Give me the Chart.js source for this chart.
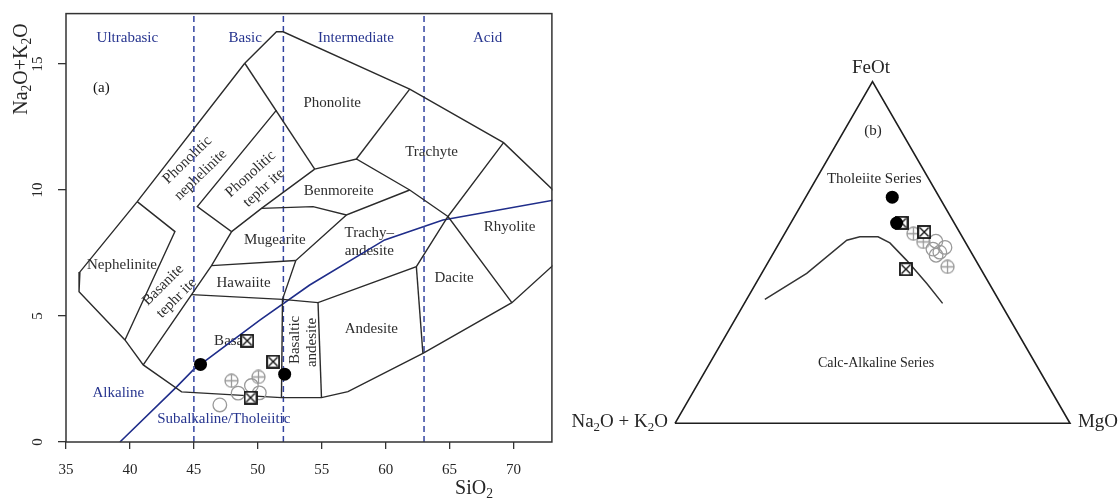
<!DOCTYPE html>
<html>
<head>
<meta charset="utf-8">
<script src="https://cdn.jsdelivr.net/npm/chart.js@4.4.1/dist/chart.umd.min.js"></script>
<style>
body { margin: 0; background: #fff; }
#wrap { position: relative; width: 1120px; height: 500px; }
#tas { position: absolute; left: 0; top: 0; }
#afm { position: absolute; left: 560px; top: 0; }
</style>
</head>
<body>
<div id="wrap">
<canvas id="tas" width="560" height="500"></canvas>
<canvas id="afm" width="560" height="500"></canvas>
</div>
<script>
const SERIF = '"Liberation Serif", "DejaVu Serif", serif';
const INK = '#262626';
const BLUE = '#27358f';
const GREY = '#9a9a9a';

// ---------- (a) TAS data ----------
const xTicks = [35, 40, 45, 50, 55, 60, 65, 70];
const yTicks = [0, 5, 10, 15];
const silicaDivides = [45, 52, 63];

// field boundaries, [SiO2, Na2O+K2O]
const outerTop = [[48.98, 15.03], [51.46, 16.28], [51.98, 16.28], [61.88, 14.0], [69.22, 11.88], [73.5, 9.8]];
const outerLow = [[48.98, 15.03], [40.57, 9.54], [36.09, 6.75], [36.02, 5.96], [39.61, 4.05], [41.04, 3.06], [44.04, 1.99],
  [51.85, 1.76], [54.98, 1.76], [57.05, 2.0], [62.91, 3.52], [69.87, 5.53], [73.5, 7.2]];
const nephelinite = [[40.57, 9.54], [43.52, 8.35], [39.61, 4.05]];
const basaniteEdge = [[51.46, 13.17], [45.27, 9.34], [47.95, 8.35], [46.38, 7.0], [41.04, 3.06]];
const phonoliteEdge = [[48.98, 15.03], [54.45, 10.83]];
const tephriteEdge = [[47.95, 8.35], [50.29, 9.27], [54.45, 10.83]];
const trachyteBase = [[54.45, 10.83], [57.71, 11.23], [61.88, 10.0], [64.87, 8.95]];
const phonoliteRight = [[57.71, 11.23], [61.88, 14.0]];
const benmoreiteBase = [[50.29, 9.27], [54.32, 9.34], [56.93, 9.01], [61.88, 10.0]];
const mugeariteRight = [[56.93, 9.01], [52.97, 7.2], [51.93, 5.66]];
const mugeariteBase = [[46.38, 7.0], [52.97, 7.2]];
const basaltTop = [[44.83, 5.85], [51.93, 5.66], [54.71, 5.53], [62.40, 6.96], [64.87, 8.95]];
const basaltRight = [[51.93, 5.66], [51.85, 1.76]];
const basAndesiteRight = [[54.71, 5.53], [54.98, 1.76]];
const andesiteRight = [[62.40, 6.96], [62.91, 3.52]];
const daciteEdge = [[69.22, 11.88], [64.87, 8.95], [69.87, 5.53]];
const fieldLines = [outerTop, outerLow, nephelinite, basaniteEdge, phonoliteEdge, tephriteEdge, trachyteBase,
  phonoliteRight, benmoreiteBase, mugeariteRight, mugeariteBase, basaltTop, basaltRight, basAndesiteRight,
  andesiteRight, daciteEdge];

const alkalineLine = [[39.22, 0], [43.65, 2.19], [44.95, 2.86], [50.16, 4.84], [54.06, 6.23], [59.92, 8.02], [64.48, 8.81], [73.5, 9.63]];

const tasFilled = [[45.52, 3.08], [52.1, 2.69]];
const tasSquares = [[49.17, 4.02], [51.2, 3.19], [49.43, 1.76]];
const tasPlus = [[47.94, 2.43], [50.05, 2.58]];
const tasOpen = [[47.03, 1.47], [48.46, 1.94], [49.5, 2.24], [50.12, 1.95]];

// ---------- (b) AFM data, [Na2O+K2O, FeOt, MgO] % ----------
const afmFilled = [[11.9, 66.2, 21.9], [14.6, 58.6, 26.8]];
const afmSquares = [[13.3, 58.7, 28.0], [8.9, 56.0, 35.1], [19.0, 45.1, 35.9]];
const afmPlus = [[11.9, 55.5, 32.6], [10.6, 53.1, 36.3], [8.1, 45.8, 46.1]];
const afmOpen = [[7.3, 53.3, 39.4], [5.9, 51.5, 42.6], [9.2, 51.0, 39.8], [7.9, 50.1, 42.0], [9.3, 49.2, 41.5]];
const afmDivide = [[59.1, 36.3, 4.6], [44.7, 43.9, 11.4], [29.7, 53.6, 16.7], [25.9, 54.6, 19.5], [21.3, 54.6, 24.1],
  [19.2, 52.8, 28.0], [17.5, 47.7, 34.8], [15.8, 40.9, 43.3], [14.7, 35.1, 50.2]];
const afmCorners = [[100, 0, 0], [0, 0, 100], [0, 100, 0], [100, 0, 0]];

// ---------- helpers ----------
const pts = arr => arr.map(([x, y]) => ({ x, y }));
function tern([a, f, m]) {
  const s = a + f + m;
  return { x: (m + f / 2) / s, y: (f / s) * Math.sqrt(3) / 2 };
}

function crossSquare(size) {
  const c = document.createElement('canvas');
  c.width = c.height = size;
  const g = c.getContext('2d');
  g.fillStyle = '#fff';
  g.fillRect(1, 1, size - 2, size - 2);
  g.strokeStyle = '#111';
  g.lineWidth = 1.8;
  g.strokeRect(1, 1, size - 2, size - 2);
  g.lineWidth = 1.4;
  g.beginPath();
  g.moveTo(2.5, 2.5); g.lineTo(size - 2.5, size - 2.5);
  g.moveTo(size - 2.5, 2.5); g.lineTo(2.5, size - 2.5);
  g.stroke();
  return c;
}
function circlePlus(size) {
  const c = document.createElement('canvas');
  c.width = c.height = size;
  const g = c.getContext('2d');
  const r = size / 2 - 1;
  g.strokeStyle = GREY;
  g.lineWidth = 1.3;
  g.beginPath();
  g.arc(size / 2, size / 2, r, 0, Math.PI * 2);
  g.moveTo(size / 2 - r, size / 2); g.lineTo(size / 2 + r, size / 2);
  g.moveTo(size / 2, size / 2 - r); g.lineTo(size / 2, size / 2 + r);
  g.stroke();
  return c;
}
const squareImg = crossSquare(14);
const plusImg = circlePlus(15);

function drawRich(ctx, parts, x, y, size, align, color) {
  let total = 0;
  const widths = parts.map(([t, sub]) => {
    ctx.font = (sub ? size * 0.68 : size) + 'px ' + SERIF;
    const w = ctx.measureText(t).width;
    total += w;
    return w;
  });
  let cx = align === 'center' ? x - total / 2 : align === 'right' ? x - total : x;
  ctx.fillStyle = color;
  ctx.textAlign = 'left';
  ctx.textBaseline = 'alphabetic';
  parts.forEach(([t, sub], i) => {
    ctx.font = (sub ? size * 0.68 : size) + 'px ' + SERIF;
    ctx.fillText(t, cx, y + (sub ? size * 0.22 : 0));
    cx += widths[i];
  });
}

function textAt(ctx, text, x, y, rot, size, color, align) {
  ctx.save();
  ctx.translate(x, y);
  ctx.rotate(rot * Math.PI / 180);
  ctx.font = size + 'px ' + SERIF;
  ctx.fillStyle = color;
  ctx.textAlign = align || 'center';
  ctx.textBaseline = 'middle';
  ctx.fillText(text, 0, 0);
  ctx.restore();
}

function lineSet(data, color, width, dash, clip) {
  return {
    type: 'scatter', data, showLine: true, pointRadius: 0, borderColor: color,
    borderWidth: width, borderDash: dash || [], fill: false, tension: 0, order: 10,
    clip: clip === undefined ? 0.5 : clip
  };
}

// ---------- (a) chart ----------
const fieldLabels = [
  ['Phonolite', 55.82, 13.45, 0], ['Trachyte', 63.59, 11.51, 0], ['Benmoreite', 56.33, 9.96, 0],
  ['Mugearite', 51.33, 8.02, 0], ['Hawaiite', 48.88, 6.31, 0], ['Nephelinite', 39.38, 7.02, 0],
  ['Basalt', 48.05, 4.01, 0], ['Andesite', 58.88, 4.48, 0], ['Dacite', 65.35, 6.51, 0],
  ['Rhyolite', 69.69, 8.53, 0], ['Trachy\u2013', 58.72, 8.28, 0], ['andesite', 58.72, 7.59, 0],
  ['Phonolitic', 44.49, 11.19, -44], ['nephelinite', 45.53, 10.60, -44],
  ['Phonolitic', 49.44, 10.63, -42], ['tephr ite', 50.47, 10.08, -42],
  ['Basanite', 42.60, 6.23, -45], ['tephr ite', 43.65, 5.71, -45],
  ['Basaltic', 52.89, 4.05, -90], ['andesite', 54.27, 3.95, -90]
];
const zoneLabels = [
  ['Ultrabasic', 39.80, 16.02], ['Basic', 49.02, 16.02], ['Intermediate', 57.68, 16.02], ['Acid', 67.97, 16.02],
  ['Alkaline', 39.09, 1.96], ['Subalkaline/Tholeiitic', 47.34, 0.91]
];

const tasDecor = {
  id: 'tasDecor',
  beforeDatasetsDraw(chart) {
    const { ctx, scales: { x, y } } = chart;
    fieldLabels.forEach(([t, vx, vy, rot]) =>
      textAt(ctx, t, x.getPixelForValue(vx), y.getPixelForValue(vy), rot, 15, '#2e2e2e'));
    zoneLabels.forEach(([t, vx, vy]) =>
      textAt(ctx, t, x.getPixelForValue(vx), y.getPixelForValue(vy), 0, 15, BLUE));
    textAt(ctx, '(a)', x.getPixelForValue(37.77), y.getPixelForValue(14.05), 0, 15, '#111');
  },
  afterDraw(chart) {
    const { ctx, chartArea: a, scales: { y } } = chart;
    ctx.save();
    ctx.strokeStyle = '#333';
    ctx.lineWidth = 1.5;
    ctx.strokeRect(a.left, a.top, a.right - a.left, a.bottom - a.top);
    yTicks.forEach(v => textAt(ctx, String(v), 38, y.getPixelForValue(v), -90, 15, INK));
    drawRich(ctx, [['SiO', 0], ['2', 1]], 474, 494, 20, 'center', INK);
    ctx.translate(27, 69);
    ctx.rotate(-Math.PI / 2);
    drawRich(ctx, [['Na', 0], ['2', 1], ['O+K', 0], ['2', 1], ['O', 0]], 0, 0, 20, 'center', INK);
    ctx.restore();
  }
};

new Chart(document.getElementById('tas'), {
  type: 'scatter',
  data: {
    datasets: [
      ...fieldLines.map(l => lineSet(pts(l), '#2b2b2b', 1.4)),
      ...silicaDivides.map(v => lineSet(pts([[v, 0], [v, 17]]), '#3444a0', 1.5, [6, 4])),
      lineSet(pts(alkalineLine), '#1f2d8a', 1.6),
      { data: pts(tasOpen), pointStyle: 'circle', pointRadius: 6.8, borderColor: GREY, borderWidth: 1.3, backgroundColor: 'rgba(0,0,0,0)', order: 5 },
      { data: pts(tasPlus), pointStyle: plusImg, order: 4 },
      { data: pts(tasSquares), pointStyle: squareImg, order: 3 },
      { data: pts(tasFilled), pointStyle: 'circle', pointRadius: 6.5, borderWidth: 0, backgroundColor: '#000', order: 2 }
    ]
  },
  options: {
    responsive: false,
    animation: false,
    events: [],
    layout: { padding: { left: 0, top: 13.6, right: 7.6, bottom: 0 } },
    plugins: { legend: { display: false }, tooltip: { enabled: false } },
    scales: {
      x: {
        type: 'linear', min: 35, max: 73,
        afterBuildTicks: s => { s.ticks = xTicks.map(v => ({ value: v })); },
        afterFit: s => { s.height = 58; },
        grid: { display: true, drawOnChartArea: false, drawTicks: true, tickLength: 7, color: '#333', lineWidth: 1.3 },
        border: { display: false },
        ticks: { font: { family: SERIF, size: 15 }, color: INK, padding: 12, maxRotation: 0 }
      },
      y: {
        type: 'linear', min: 0, max: 17,
        afterBuildTicks: s => { s.ticks = yTicks.map(v => ({ value: v })); },
        afterFit: s => { s.width = 66; },
        grid: { display: true, drawOnChartArea: false, drawTicks: true, tickLength: 8, color: '#333', lineWidth: 1.3 },
        border: { display: false },
        ticks: { display: false }
      }
    }
  },
  plugins: [tasDecor]
});

// ---------- (b) chart ----------
const afmDecor = {
  id: 'afmDecor',
  afterDraw(chart) {
    const { ctx, scales: { x, y } } = chart;
    const X = v => x.getPixelForValue(v), Y = v => y.getPixelForValue(v);
    ctx.save();
    textAt(ctx, 'FeOt', X(0.496), Y(0.8995), 0, 19, INK);
    textAt(ctx, '(b)', X(0.501), Y(0.740), 0, 15, INK);
    textAt(ctx, 'Tholeiite Series', X(0.5043), Y(0.620), 0, 15, INK);
    textAt(ctx, 'Calc-Alkaline Series', X(0.5089), Y(0.152), 0, 14, INK);
    drawRich(ctx, [['Na', 0], ['2', 1], ['O + K', 0], ['2', 1], ['O', 0]], X(-0.018), Y(0.006) + 6, 19, 'right', INK);
    drawRich(ctx, [['MgO', 0]], X(1.020), Y(0.006) + 6, 19, 'left', INK);
    ctx.restore();
  }
};

new Chart(document.getElementById('afm'), {
  type: 'scatter',
  data: {
    datasets: [
      lineSet(afmCorners.map(tern), '#1e1e1e', 1.6, [], 4),
      lineSet(afmDivide.map(tern), '#333', 1.5, [], 4),
      { data: afmOpen.map(tern), pointStyle: 'circle', pointRadius: 6.8, borderColor: GREY, borderWidth: 1.3, backgroundColor: 'rgba(0,0,0,0)', order: 5 },
      { data: afmPlus.map(tern), pointStyle: plusImg, order: 4 },
      { data: afmSquares.map(tern), pointStyle: squareImg, order: 3 },
      { data: afmFilled.map(tern), pointStyle: 'circle', pointRadius: 6.5, borderWidth: 0, backgroundColor: '#000', order: 2 }
    ]
  },
  options: {
    responsive: false,
    animation: false,
    events: [],
    layout: { padding: { left: 115, top: 81.7, right: 50, bottom: 76.7 } },
    plugins: { legend: { display: false }, tooltip: { enabled: false } },
    scales: {
      x: { type: 'linear', min: 0, max: 1, display: false },
      y: { type: 'linear', min: 0, max: Math.sqrt(3) / 2, display: false }
    }
  },
  plugins: [afmDecor]
});
</script>
</body>
</html>
